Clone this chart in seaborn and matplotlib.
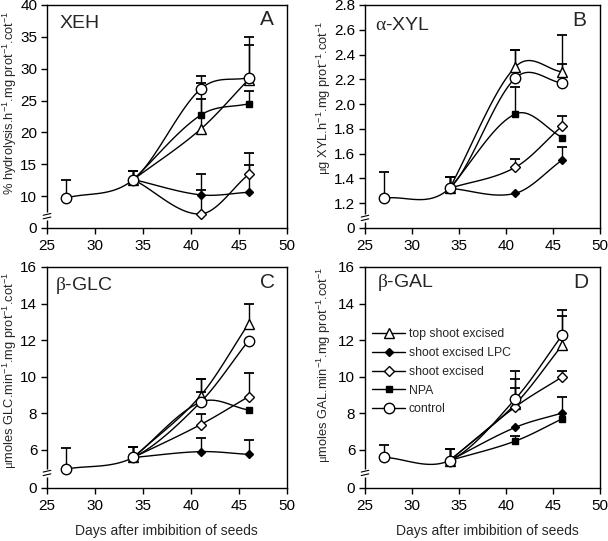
import numpy as np
import pandas as pd
import matplotlib
matplotlib.use('Agg')
import matplotlib.pyplot as plt
import seaborn as sns
from matplotlib.lines import Line2D

sns.set_style('ticks')
plt.rcParams['font.family'] = ['Liberation Sans', 'DejaVu Sans']
plt.rcParams['mathtext.fontset'] = 'custom'
plt.rcParams['mathtext.rm'] = 'Liberation Serif'
plt.rcParams['mathtext.default'] = 'regular'

# days of sampling
DAYS_CONTROL = [27, 34, 41, 46]
DAYS_TREATED = [34, 41, 46]
SERIES = ['top shoot excised', 'shoot excised LPC', 'shoot excised', 'NPA', 'control']

# A - XEH (% hydrolysis)
XEH_MEAN = {'top shoot excised': [12.6, 20.5, 28.3],
            'shoot excised LPC': [12.6, 10.2, 10.6],
            'shoot excised': [12.6, 7.2, 13.4],
            'NPA': [12.6, 22.7, 24.5],
            'control': [9.7, 12.6, 26.8, 28.6]}
XEH_ERR = {'top shoot excised': [1.4, 7.2, 6.7],
           'shoot excised LPC': [1.4, 3.3, 4.3],
           'shoot excised': [1.4, 3.7, 3.3],
           'NPA': [1.4, 2.6, 2.0],
           'control': [2.8, 1.4, 2.1, 5.1]}

# B - alpha-XYL
XYL_MEAN = {'top shoot excised': [1.32, 2.30, 2.26],
            'shoot excised LPC': [1.32, 1.28, 1.55],
            'shoot excised': [1.32, 1.49, 1.825],
            'NPA': [1.32, 1.92, 1.73],
            'control': [1.24, 1.32, 2.21, 2.17]}
XYL_ERR = {'top shoot excised': [0.09, 0.14, 0.30],
           'shoot excised LPC': [0.09, 0, 0.10],
           'shoot excised': [0.09, 0.07, 0.08],
           'NPA': [0.09, 0.22, 0],
           'control': [0.21, 0.09, 0.23, 0.15]}

# C - beta-GLC
GLC_MEAN = {'top shoot excised': [5.57, 8.96, 12.89],
            'shoot excised LPC': [5.57, 5.89, 5.74],
            'shoot excised': [5.57, 7.37, 8.9],
            'NPA': [5.57, 8.6, 8.17],
            'control': [4.94, 5.57, 8.6, 11.97]}
GLC_ERR = {'top shoot excised': [0.55, 0.88, 1.1],
           'shoot excised LPC': [0.55, 0.75, 0.8],
           'shoot excised': [0.55, 0.6, 1.3],
           'NPA': [0.55, 0.58, 0],
           'control': [1.13, 0.55, 1.24, 0]}

# D - beta-GAL
GAL_MEAN = {'top shoot excised': [5.4, 8.5, 11.73],
            'shoot excised LPC': [5.4, 7.22, 8.01],
            'shoot excised': [5.4, 8.34, 9.99],
            'NPA': [5.4, 6.47, 7.69],
            'control': [5.58, 5.4, 8.78, 12.28]}
GAL_ERR = {'top shoot excised': [0.65, 1.34, 1.57],
           'shoot excised LPC': [0.65, 0, 0.86],
           'shoot excised': [0.65, 1.06, 0.3],
           'NPA': [0.65, 0.3, 0],
           'control': [0.69, 0.65, 1.5, 1.35]}

STYLE = {'top shoot excised': dict(marker='^', mfc='white', ms=6.5),
         'shoot excised LPC': dict(marker='D', mfc='black', ms=4.2),
         'shoot excised': dict(marker='D', mfc='white', ms=5),
         'NPA': dict(marker='s', mfc='black', ms=4.5),
         'control': dict(marker='o', mfc='white', ms=7.5)}


def smooth_curve(x, y, num=40):
    # Catmull-Rom style Hermite curve through the measured points (line drawing only)
    x = np.asarray(x, float)
    y = np.asarray(y, float)
    n = len(x)
    m = np.zeros(n)
    m[0] = (y[1] - y[0]) / (x[1] - x[0])
    m[-1] = (y[-1] - y[-2]) / (x[-1] - x[-2])
    for i in range(1, n - 1):
        m[i] = (y[i + 1] - y[i - 1]) / (x[i + 1] - x[i - 1])
    xs_all, ys_all = [], []
    for i in range(n - 1):
        h = x[i + 1] - x[i]
        t = np.linspace(0, 1, num)
        h00 = 2 * t ** 3 - 3 * t ** 2 + 1
        h10 = t ** 3 - 2 * t ** 2 + t
        h01 = -2 * t ** 3 + 3 * t ** 2
        h11 = t ** 3 - t ** 2
        xs_all.append(x[i] + t * h)
        ys_all.append(h00 * y[i] + h10 * h * m[i] + h01 * y[i + 1] + h11 * h * m[i + 1])
    return np.concatenate(xs_all), np.concatenate(ys_all)


def draw_break(ax, yb):
    ax.plot([0, 0], [yb - 0.018, yb + 0.018], transform=ax.transAxes, color='white',
            lw=2.5, clip_on=False, zorder=5, solid_capstyle='butt')
    for dy in (-0.008, 0.008):
        ax.plot([-0.016, 0.016], [yb + dy - 0.004, yb + dy + 0.004], transform=ax.transAxes,
                color='black', lw=0.8, clip_on=False, zorder=6)


def panel(ax, means, errs, ylim, yticks, yticklabels, ylabel, title, letter,
          title_pos, letter_pos, label_pos, yb):
    rows = []
    for s in SERIES:
        days = DAYS_CONTROL if s == 'control' else DAYS_TREATED
        xs, ys = smooth_curve(days, means[s])
        rows.append(pd.DataFrame({'day': xs, 'val': ys, 'series': s}))
    curves = pd.concat(rows, ignore_index=True)
    sns.lineplot(data=curves, x='day', y='val', units='series', estimator=None, sort=False,
                 color='black', lw=1, ax=ax, legend=False, zorder=2)
    for s in SERIES:
        days = np.array(DAYS_CONTROL if s == 'control' else DAYS_TREATED, float)
        m = np.array(means[s], float)
        e = np.array(errs[s], float)
        k = e > 0
        ax.vlines(days[k], m[k], m[k] + e[k], color='black', lw=1, zorder=2)
        ax.plot(days[k], m[k] + e[k], ls='none', marker='_', ms=7, mew=1.3, color='black', zorder=2)
        st = STYLE[s]
        ax.plot(days, m, ls='none', marker=st['marker'], ms=st['ms'], mfc=st['mfc'],
                mec='black', mew=1, zorder=3)
    ax.set_xlim(25, 50)
    ax.set_xticks(range(25, 51, 5))
    ax.set_ylim(*ylim)
    ax.set_yticks(yticks)
    ax.set_yticklabels(yticklabels)
    ax.set_xlabel('')
    ax.set_ylabel(ylabel, fontsize=9.3)
    ax.yaxis.set_label_coords(*label_pos)
    ax.tick_params(direction='out', length=4, width=1, labelsize=11, colors='black')
    ax.tick_params(axis='x', pad=4)
    ax.tick_params(axis='y', pad=3)
    for sp in ax.spines.values():
        sp.set_visible(True)
        sp.set_color('black')
        sp.set_linewidth(1)
    ax.text(title_pos[0], title_pos[1], title, transform=ax.transAxes, fontsize=14,
            ha='left', va='center')
    ax.text(letter_pos[0], letter_pos[1], letter, transform=ax.transAxes, fontsize=15,
            ha='right', va='center')
    draw_break(ax, yb)


fig = plt.figure(figsize=(6.08, 5.41), dpi=100)
axA = fig.add_axes([0.0773, 0.5786, 0.3947, 0.4122])
axB = fig.add_axes([0.6003, 0.5786, 0.3865, 0.4122])
axC = fig.add_axes([0.0773, 0.0980, 0.3947, 0.4085])
axD = fig.add_axes([0.6003, 0.0980, 0.3865, 0.4085])

sup = '$^{-1}$'
panel(axA, XEH_MEAN, XEH_ERR, (5, 40), list(range(5, 41, 5)),
      ['0'] + [str(v) for v in range(10, 41, 5)],
      '% hydrolysis.h' + sup + '.mg prot' + sup + '.cot' + sup,
      'XEH', 'A', (0.054, 0.918), (0.946, 0.937), (-0.118, 0.56), 0.053)
panel(axB, XYL_MEAN, XYL_ERR, (1.0, 2.8), list(np.arange(1.0, 2.81, 0.2)),
      ['0'] + ['%.1f' % v for v in np.arange(1.2, 2.81, 0.2)],
      r'$\mathrm{\mu}$g XYL.h' + sup + '.mg prot' + sup + '.cot' + sup,
      r'$\mathrm{\alpha}$-XYL', 'B', (0.043, 0.91), (0.94, 0.93), (-0.138, 0.585), 0.045)
panel(axC, GLC_MEAN, GLC_ERR, (3.9, 16), [3.9, 6, 8, 10, 12, 14, 16],
      ['0', '6', '8', '10', '12', '14', '16'],
      r'$\mathrm{\mu}$moles GLC.min' + sup + '.mg prot' + sup + '.cot' + sup,
      r'$\mathrm{\beta}$-GLC', 'C', (0.033, 0.918), (0.95, 0.928), (-0.118, 0.534), 0.068)
panel(axD, GAL_MEAN, GAL_ERR, (3.9, 16), [3.9, 6, 8, 10, 12, 14, 16],
      ['0', '6', '8', '10', '12', '14', '16'],
      r'$\mathrm{\mu}$moles GAL.min' + sup + '.mg prot' + sup + '.cot' + sup,
      r'$\mathrm{\beta}$-GAL', 'D', (0.051, 0.928), (0.949, 0.93), (-0.138, 0.557), 0.068)

for ax, cx in ((axC, 0.496), (axD, 0.52)):
    ax.set_xlabel('Days after imbibition of seeds', fontsize=10)
    ax.xaxis.set_label_coords(cx, -0.165)

handles = [Line2D([0], [0], color='black', lw=1, marker=STYLE[s]['marker'],
                  ms=STYLE[s]['ms'], mfc=STYLE[s]['mfc'], mec='black') for s in SERIES]
axD.legend(handles, SERIES, loc='upper left', bbox_to_anchor=(0.03, 0.722), frameon=False,
           fontsize=8.8, borderpad=0, borderaxespad=0, handlelength=2.7,
           handletextpad=0.3, labelspacing=0.55)

fig.savefig('out.png', dpi=100)
